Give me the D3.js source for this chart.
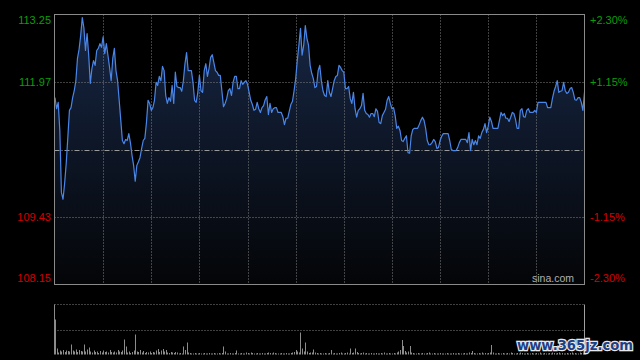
<!DOCTYPE html>
<html><head><meta charset="utf-8">
<script src="https://cdn.jsdelivr.net/npm/d3@7"></script>
<style>html,body{margin:0;padding:0;background:#000;} svg{display:block}</style>
</head><body>
<svg id="c" width="640" height="360"></svg>
<script>
const prevClose = 110.70;
const priceTicks = [113.25, 111.97, 109.43, 108.15];
const pctTicks = ["+2.30%", "+1.15%", "-1.15%", "-2.30%"];
const timeGrid = [30, 60, 90, 120, 150, 180, 210, 240, 270, 300];
const prices = [
111.68,111.47,111.59,111.06,109.89,109.76,110.06,110.44,110.93,111.44,
111.49,111.68,111.81,112.00,112.42,112.59,112.85,113.19,113.00,112.57,
112.89,112.48,111.95,112.23,112.38,112.29,112.57,112.61,112.70,112.63,
112.83,112.51,112.70,112.48,112.25,112.00,112.42,112.61,112.19,112.00,
111.63,111.25,110.87,110.81,110.89,110.87,111.00,110.83,110.59,110.40,
110.10,110.40,110.47,110.55,110.72,110.87,110.91,111.21,111.63,111.57,
111.44,111.49,111.63,111.97,111.91,112.08,112.00,112.27,112.19,111.72,
111.57,111.68,111.61,111.91,111.57,112.16,111.89,111.87,111.87,111.80,
112.00,112.32,112.53,112.19,112.19,112.19,111.97,111.63,111.59,111.78,
112.10,111.81,111.78,112.19,112.32,112.08,112.23,112.44,112.49,112.34,
112.19,112.16,112.10,112.10,111.81,111.51,111.57,111.66,111.81,111.85,
111.72,111.97,112.08,112.08,111.85,111.85,112.00,111.93,111.97,112.00,
111.93,111.78,111.63,111.55,111.44,111.46,111.59,111.47,111.40,111.49,
111.53,111.64,111.70,111.36,111.57,111.40,111.47,111.49,111.49,111.40,
111.40,111.40,111.32,111.17,111.29,111.29,111.42,111.55,111.61,111.81,
112.04,112.38,112.67,112.99,112.48,112.67,113.04,112.80,112.67,112.29,
112.14,112.04,111.87,111.89,112.19,112.29,112.00,111.81,111.72,111.70,
112.00,111.78,111.70,111.85,112.00,112.08,112.10,112.29,112.25,112.19,
112.16,111.85,111.85,111.89,111.66,111.57,111.78,111.47,111.31,111.44,
111.47,111.53,111.76,111.44,111.38,111.36,111.31,111.38,111.38,111.32,
111.47,111.42,111.21,111.19,111.34,111.40,111.46,111.63,111.70,111.57,
111.47,111.49,111.34,111.10,111.14,111.06,110.87,110.85,110.91,110.96,
110.64,110.63,110.96,111.08,111.10,111.10,111.10,111.17,111.25,111.31,
111.25,111.10,110.87,110.79,110.79,110.83,110.89,110.85,110.72,110.74,
110.87,110.95,111.00,111.00,111.00,111.00,110.87,110.70,110.68,110.68,
110.68,110.74,110.83,110.89,110.89,110.89,110.89,110.83,111.02,110.68,
110.89,110.79,110.87,110.79,110.96,110.91,111.02,111.08,111.19,111.02,
111.14,111.31,111.23,111.10,111.10,111.10,111.10,111.25,111.40,111.34,
111.38,111.29,111.29,111.23,111.31,111.40,111.38,111.27,111.10,111.10,
111.44,111.47,111.32,111.31,111.44,111.47,111.40,111.40,111.40,111.44,
111.40,111.59,111.59,111.59,111.59,111.59,111.59,111.49,111.49,111.49,
111.66,111.80,111.89,112.00,111.78,111.80,111.81,111.97,111.81,111.76,
111.78,111.85,111.87,111.78,111.64,111.63,111.68,111.68,111.59,111.44,
111.78];
const volumes = [
350,60,20,40,30,45,25,40,35,30,
100,40,30,50,25,45,35,30,100,30,
50,70,30,20,40,25,30,15,35,20,
40,25,30,20,45,25,20,30,20,45,
30,25,40,150,80,20,30,15,25,40,
200,30,25,45,20,35,15,25,20,30,
15,25,20,40,55,25,40,55,30,45,
20,15,25,20,15,25,20,10,15,10,
80,45,120,20,15,10,10,15,10,10,
15,10,10,15,10,10,15,10,10,15,
10,10,15,10,15,80,30,10,10,15,
10,10,15,40,10,10,15,10,10,20,
15,10,20,15,10,10,15,10,10,15,
10,10,15,20,15,10,20,15,10,10,
10,15,10,10,15,10,10,15,20,25,
45,30,20,220,60,30,120,30,15,20,
20,50,20,15,10,15,10,10,15,10,
10,15,45,10,15,10,10,15,20,10,
10,15,20,10,60,15,20,60,25,15,
10,15,20,10,15,10,10,15,10,10,
15,10,10,15,10,20,10,10,15,10,
10,15,10,20,30,45,145,85,35,20,
30,85,20,15,10,10,15,10,10,15,
10,10,15,20,10,10,15,10,10,10,
15,10,10,10,15,10,10,10,15,10,
10,15,10,10,10,15,10,10,20,15,
35,15,10,10,15,10,20,10,15,10,
15,20,95,20,10,10,15,10,10,15,
10,10,15,10,20,15,10,10,15,10,
20,15,10,10,15,10,10,15,10,10,
15,10,20,10,10,15,10,10,15,10,
20,15,10,15,20,10,15,10,10,15,
10,15,20,10,15,10,10,20,15,10,
25];

const svg = d3.select("#c");
const L = 54.5, R = 584.5, T = 14.5, B = 284.5;
const VT = 304.5, VB = 354.5;
const x = d3.scaleLinear().domain([0, 330]).range([55, 584.5]);
const y = d3.scaleLinear().domain([108.15, 113.25]).range([B, T]);
const yv = d3.scaleLinear().domain([0, 500]).range([VB, VT]);
const px = v => Math.round(v) + 0.5;

svg.append("rect").attr("width", 640).attr("height", 360).attr("fill", "#000");

const defs = svg.append("defs");
const grad = defs.append("linearGradient").attr("id", "g").attr("x1", 0).attr("y1", 0).attr("x2", 0).attr("y2", 1)
  .attr("gradientUnits", "userSpaceOnUse").attr("x1", 0).attr("y1", T).attr("x2", 0).attr("y2", B);
grad.append("stop").attr("offset", "0%").attr("stop-color", "#172745");
grad.append("stop").attr("offset", "100%").attr("stop-color", "#040507");

const area = d3.area().x((d, i) => x(i)).y0(B).y1(d => y(d));
const line = d3.line().x((d, i) => x(i)).y(d => y(d));

svg.append("path").datum(prices).attr("d", area).attr("fill", "url(#g)");

// grids
const grid = svg.append("g").attr("stroke", "#808080").attr("stroke-width", 1).attr("stroke-dasharray", "1,2");
grid.selectAll(".v").data(timeGrid).enter().append("line")
  .attr("x1", d => px(x(d))).attr("x2", d => px(x(d))).attr("y1", T).attr("y2", B);
grid.selectAll(".h").data([priceTicks[1], priceTicks[2]]).enter().append("line")
  .attr("x1", L).attr("x2", R).attr("y1", d => px(y(d))).attr("y2", d => px(y(d)));
svg.append("line").attr("x1", L).attr("x2", R).attr("y1", px(y(prevClose))).attr("y2", px(y(prevClose)))
  .attr("stroke", "#9a9a9a").attr("stroke-dasharray", "5,2,1,2");

svg.append("path").datum(prices).attr("d", line).attr("fill", "none")
  .attr("stroke", "#4a86e8").attr("stroke-width", 1.2).attr("stroke-linejoin", "round");

// border
svg.append("rect").attr("x", L).attr("y", T).attr("width", R - L).attr("height", B - T)
  .attr("fill", "none").attr("stroke", "#8a8a8a");

// labels
const lab = svg.append("g").attr("font-family", "Liberation Sans, Arial, sans-serif").attr("font-size", 11);
const offs = [9.5, 4, 4, -2.5];
const colors = ["#0a9e0a", "#0a9e0a", "#d40000", "#d40000"];
lab.selectAll(".l").data(priceTicks).enter().append("text")
  .attr("x", 51).attr("y", (d, i) => y(d) + offs[i]).attr("text-anchor", "end")
  .attr("fill", (d, i) => colors[i]).text(d => d.toFixed(2));
lab.selectAll(".r").data(pctTicks).enter().append("text")
  .attr("x", 590).attr("y", (d, i) => y(priceTicks[i]) + offs[i]).attr("text-anchor", "start")
  .attr("fill", (d, i) => colors[i]).text(d => d);

svg.append("text").attr("x", 532).attr("y", 282).attr("font-family", "Liberation Sans, Arial, sans-serif")
  .attr("font-size", 10.5).attr("fill", "#b0b0b0").text("sina.com");

// volume panel
const vg = svg.append("g").attr("stroke", "#808080").attr("stroke-dasharray", "1,2");
vg.append("line").attr("x1", L).attr("x2", R).attr("y1", VT).attr("y2", VT);
vg.append("line").attr("x1", L).attr("x2", R).attr("y1", 330.5).attr("y2", 330.5);
svg.append("line").attr("x1", L).attr("x2", L).attr("y1", VT).attr("y2", VB).attr("stroke", "#8a8a8a");
svg.append("line").attr("x1", R).attr("x2", R).attr("y1", VT).attr("y2", VB).attr("stroke", "#a0a0a0");

svg.append("g").selectAll("line").data(volumes).enter().append("line")
  .attr("x1", (d, i) => px(x(i))).attr("x2", (d, i) => px(x(i)))
  .attr("y1", VB).attr("y2", d => yv(d))
  .attr("stroke", "#8c8c8c").attr("stroke-width", 1);

// watermark
svg.append("text").attr("x", 517).attr("y", 350).attr("font-family", "DejaVu Sans, sans-serif")
  .attr("font-weight", "bold").attr("font-size", 14).attr("fill", "#1d3f86")
  .attr("stroke", "#e8e8e8").attr("stroke-width", 2.5).attr("paint-order", "stroke")
  .attr("textLength", 116).attr("lengthAdjust", "spacingAndGlyphs")
  .text("www.365jz.com");
</script>
</body></html>
